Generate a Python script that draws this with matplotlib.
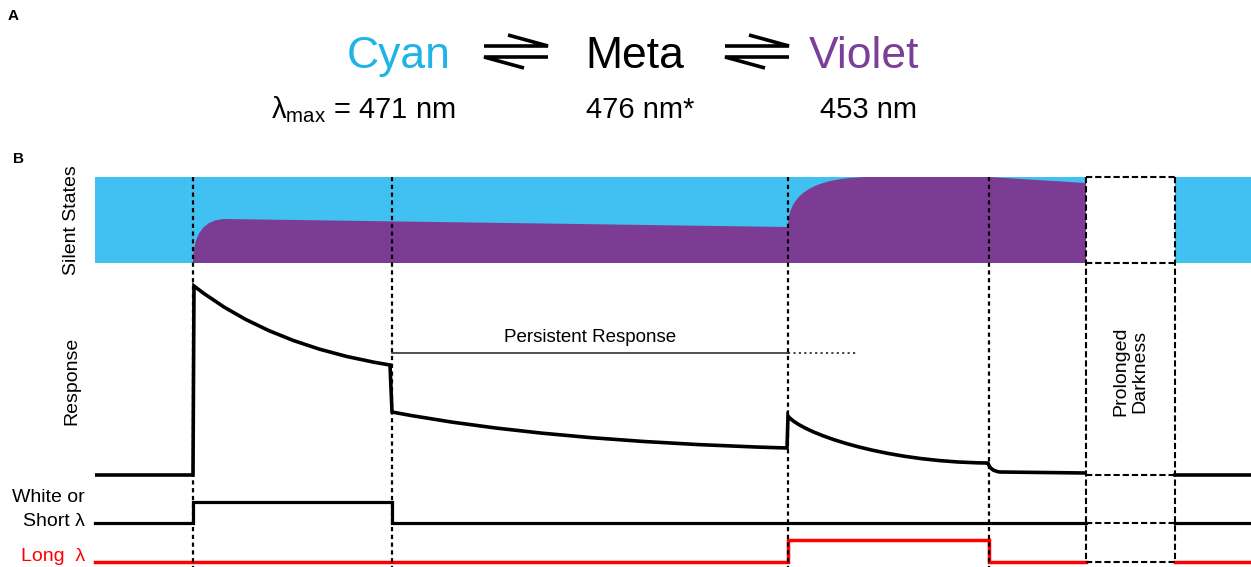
import numpy as np
import matplotlib.pyplot as plt
from matplotlib.path import Path
from matplotlib.patches import PathPatch

plt.rcParams['font.family'] = ['Liberation Sans', 'DejaVu Sans']
plt.rcParams['mathtext.fontset'] = 'custom'
plt.rcParams['mathtext.rm'] = 'Liberation Sans'
plt.rcParams['mathtext.it'] = 'Liberation Sans'

# colours
band_blue = '#40c1f1'
violet = '#7d3c93'
cyan_text = '#1fb3e8'
violet_text = '#7b3f98'

M, L, Q, C = Path.MOVETO, Path.LINETO, Path.CURVE3, Path.CURVE4

# time axis (arbitrary units) -------------------------------------------
t_start, t_end = 95, 1251
light_events = [193, 392, 788, 989]          # white on, white off, red on, red off
dark_on, dark_off = 1086, 1175               # prolonged darkness

band_top, band_bottom = 177, 263

# upper edge of the Violet fraction (bezier outline)
violet_pts = [(193, 263), (193, 219), (226, 219), (788, 227),
              (788, 190), (820, 177), (873, 177), (989, 177), (1086, 183),
              (1086, 263), (193, 263)]
violet_codes = [M, Q, Q, L, C, C, C, L, L, L, Path.CLOSEPOLY]

# response trace (canvas rows, larger = lower)
resp_pts = [(95, 475), (193, 475), (194, 286), (270, 346), (390, 365),
            (392, 412), (543, 441), (787, 448), (788, 416),
            (800, 432), (880, 462), (988, 463), (990, 471), (1000, 472), (1086, 473)]
resp_codes = [M, L, L, Q, Q, L, Q, Q, L, C, C, C, Q, Q, L]
resp_after_dark = 475

# stimulus traces
white_t = [95, 193, 193, 392, 392, 1086]
white_y = [523, 523, 502, 502, 523, 523]
red_t = [95, 788, 788, 989, 989, 1086]
red_y = [562, 562, 540, 540, 562, 562]

persist_y = 353
persist_dotted_end = 857

fig = plt.figure(figsize=(12.51, 5.67), dpi=100)
ax = fig.add_axes([0, 0, 1, 1])
ax.set_xlim(0, 1251)
ax.set_ylim(567, 0)
ax.axis('off')

# ---- panel A ----------------------------------------------------------
ax.text(8, 20, 'A', fontsize=11, fontweight='bold', va='baseline')
ax.text(399, 68, 'Cyan', fontsize=32, color=cyan_text, ha='center', va='baseline')
ax.text(635, 68, 'Meta', fontsize=32, color='black', ha='center', va='baseline')
ax.text(864, 68, 'Violet', fontsize=32, color=violet_text, ha='center', va='baseline')

# equilibrium harpoons
for cx in [516, 757]:
    kw = dict(color='black', lw=2.6, solid_capstyle='butt', solid_joinstyle='miter')
    ax.plot([cx - 32, cx + 32, cx - 8], [46, 46, 35], **kw)
    ax.plot([cx + 32, cx - 32, cx + 8], [57, 57, 68], **kw)

ax.text(455, 118, r'λ$_{\mathrm{max}}$ = 471 nm', fontsize=21, ha='right', va='baseline')
ax.text(640, 118, '476 nm*', fontsize=21, ha='center', va='baseline')
ax.text(868, 118, '453 nm', fontsize=21, ha='center', va='baseline')

# ---- panel B ----------------------------------------------------------
ax.text(13, 163, 'B', fontsize=11, fontweight='bold', va='baseline')

# silent-state band
ax.fill_between([t_start, dark_on], band_top, band_bottom, color=band_blue, lw=0)
ax.fill_between([dark_off, t_end], band_top, band_bottom, color=band_blue, lw=0)
ax.add_patch(PathPatch(Path(violet_pts, violet_codes), facecolor=violet, lw=0))

# response
ax.add_patch(PathPatch(Path(resp_pts, resp_codes), facecolor='none',
                       edgecolor='black', lw=2.6, joinstyle='miter'))
ax.plot([dark_off, t_end], [resp_after_dark] * 2, color='black', lw=2.6)

# stimuli
ax.plot(white_t, white_y, color='black', lw=2.3, solid_joinstyle='miter')
ax.plot([dark_off, t_end], [white_y[0]] * 2, color='black', lw=2.3)
ax.plot(red_t, red_y, color='red', lw=2.5, solid_joinstyle='miter')
ax.plot([dark_off, t_end], [red_y[0]] * 2, color='red', lw=2.5)

# light transitions
for t in light_events:
    ax.plot([t, t], [band_top, 567], color='black', lw=1.6,
            linestyle=(0, (1.9, 1.6)), zorder=3)

# prolonged darkness box
dash = (0, (3, 1.4))
for t in [dark_on, dark_off]:
    ax.plot([t, t], [band_top, red_y[0]], color='black', lw=1.5, linestyle=dash, zorder=3)
for y in [band_top, band_bottom, resp_after_dark, white_y[0], red_y[0]]:
    ax.plot([dark_on, dark_off], [y, y], color='black', lw=1.5, linestyle=dash, zorder=3)
ax.text((dark_on + dark_off) / 2, 371, 'Prolonged\nDarkness', fontsize=14,
        rotation=90, ha='center', va='center', linespacing=1.15)

# persistent response marker
ax.plot([light_events[1], light_events[2]], [persist_y] * 2, color='#333333', lw=1.2)
ax.plot([light_events[2], persist_dotted_end], [persist_y] * 2, color='#333333', lw=1.3,
        linestyle=(0, (1.2, 1.8)))
ax.text(590, 342, 'Persistent Response', fontsize=13.5, ha='center', va='baseline')

# row labels
ax.text(72, 220, 'Silent States', fontsize=14, rotation=90, ha='center', va='center')
ax.text(72, 381, 'Response', fontsize=14, rotation=90, ha='center', va='center')
ax.text(85, 502, 'White or', fontsize=14, ha='right', va='baseline')
ax.text(85, 526, 'Short λ', fontsize=14, ha='right', va='baseline')
ax.text(85, 561, 'Long  λ', fontsize=14, ha='right', va='baseline', color='red')

fig.savefig('out.png', dpi=100)
